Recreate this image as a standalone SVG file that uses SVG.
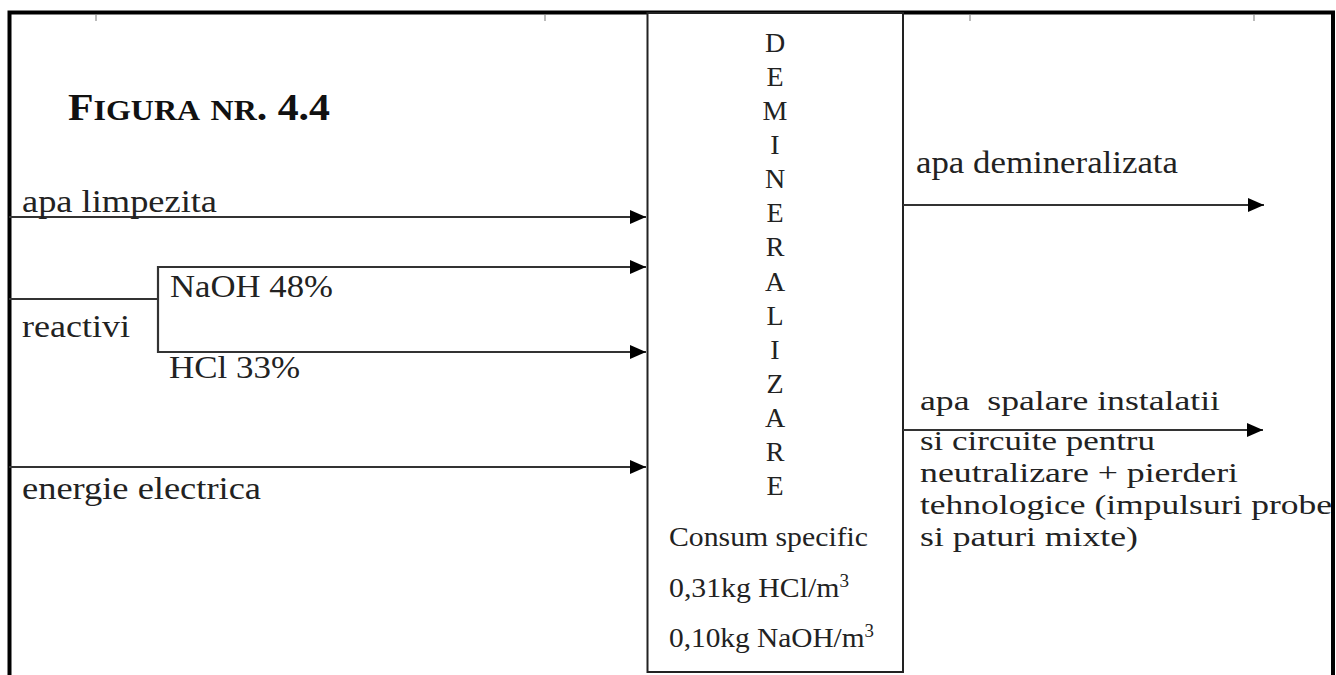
<svg xmlns="http://www.w3.org/2000/svg" width="1336" height="675" viewBox="0 0 1336 675">
  <defs>
    <marker id="arrow" viewBox="0 0 16 14" refX="16" refY="7" markerWidth="16" markerHeight="14" markerUnits="userSpaceOnUse" orient="auto">
      <path d="M0,0 L16,7 L0,14 Z" fill="#000"/>
    </marker>
    <style>
      .frame { fill: none; stroke: #000; stroke-width: 4; }
      .box { fill: #fff; stroke: #222; stroke-width: 2; }
      .flow { fill: none; stroke: #333; stroke-width: 2.2; }
      .flow-arrow { fill: none; stroke: #333; stroke-width: 2.2; marker-end: url(#arrow); }
      .tick { stroke: #bbb; stroke-width: 2; }
      .lbl { font-family: "Liberation Serif", "Times New Roman", serif; font-size: 32px; fill: #222; white-space: pre; }
      .lbl-sm { font-family: "Liberation Serif", "Times New Roman", serif; font-size: 28px; fill: #222; white-space: pre; }
      .inbox { font-family: "Liberation Serif", "Times New Roman", serif; font-size: 28px; fill: #222; }
      .letter { font-family: "Liberation Serif", "Times New Roman", serif; font-size: 28px; fill: #222; text-anchor: middle; }
      .title { font-family: "Liberation Serif", "Times New Roman", serif; font-weight: bold; fill: #111; }
    </style>
  </defs>

  <rect width="1336" height="675" fill="#fff"/>

  <!-- outer frame, open at the bottom -->
  <path class="frame" d="M9.5,690 V12.5 H1333 V690"/>

  <!-- faint marks along the top edge -->
  <g id="top-marks">
    <line class="tick" x1="96" y1="15" x2="96" y2="21"/>
    <line class="tick" x1="545" y1="15" x2="545" y2="21"/>
    <line class="tick" x1="970" y1="15" x2="970" y2="21"/>
    <line class="tick" x1="1254" y1="15" x2="1254" y2="21"/>
  </g>

  <!-- figure title -->
  <g id="title">
    <text class="title" x="68" y="120" textLength="262" lengthAdjust="spacingAndGlyphs"><tspan font-size="38">F</tspan><tspan font-size="29">IGURA</tspan><tspan font-size="38"> </tspan><tspan font-size="29">NR</tspan><tspan font-size="38">. 4.4</tspan></text>
  </g>

  <!-- process block -->
  <g id="demineralizare">
    <rect class="box" x="647.5" y="13" width="255.5" height="659"/>
    <text class="letter" x="775" y="52">D</text>
    <text class="letter" x="775" y="86">E</text>
    <text class="letter" x="775" y="120">M</text>
    <text class="letter" x="775" y="154">I</text>
    <text class="letter" x="775" y="188">N</text>
    <text class="letter" x="775" y="222">E</text>
    <text class="letter" x="775" y="256">R</text>
    <text class="letter" x="775" y="291">A</text>
    <text class="letter" x="775" y="325">L</text>
    <text class="letter" x="775" y="359">I</text>
    <text class="letter" x="775" y="393">Z</text>
    <text class="letter" x="775" y="427">A</text>
    <text class="letter" x="775" y="461">R</text>
    <text class="letter" x="775" y="495">E</text>
    <text class="inbox" x="669" y="546" textLength="199" lengthAdjust="spacingAndGlyphs">Consum specific</text>
    <text class="inbox" x="669" y="597" textLength="180" lengthAdjust="spacingAndGlyphs">0,31kg HCl/m<tspan font-size="18" dy="-10">3</tspan></text>
    <text class="inbox" x="669" y="647" textLength="205" lengthAdjust="spacingAndGlyphs">0,10kg NaOH/m<tspan font-size="18" dy="-10">3</tspan></text>
  </g>

  <!-- connectors -->
  <g id="connectors">
    <path class="flow-arrow" d="M9,217 H646"/>
    <path class="flow" d="M9,299 H158"/>
    <path class="flow" d="M158,266 V353"/>
    <path class="flow-arrow" d="M157,267 H646"/>
    <path class="flow-arrow" d="M157,352 H646"/>
    <path class="flow-arrow" d="M9,467 H646"/>
    <path class="flow-arrow" d="M903,205 H1264"/>
    <path class="flow-arrow" d="M903,430 H1263"/>
  </g>

  <!-- input labels -->
  <g id="in-apa-limpezita">
    <text class="lbl" x="22" y="212" textLength="195" lengthAdjust="spacingAndGlyphs">apa limpezita</text>
  </g>
  <g id="in-reactivi">
    <text class="lbl" x="22" y="337" textLength="108" lengthAdjust="spacingAndGlyphs">reactivi</text>
  </g>
  <g id="in-naoh">
    <text class="lbl" x="170" y="297" textLength="163" lengthAdjust="spacingAndGlyphs">NaOH 48%</text>
  </g>
  <g id="in-hcl">
    <text class="lbl" x="169" y="378" textLength="131" lengthAdjust="spacingAndGlyphs">HCl 33%</text>
  </g>
  <g id="in-energie">
    <text class="lbl" x="22" y="499" textLength="239" lengthAdjust="spacingAndGlyphs">energie electrica</text>
  </g>

  <!-- output labels -->
  <g id="out-apa-demineralizata">
    <text class="lbl" x="916" y="173" textLength="262" lengthAdjust="spacingAndGlyphs">apa demineralizata</text>
  </g>
  <g id="out-apa-spalare">
    <text class="lbl-sm" x="920" y="410" textLength="300" lengthAdjust="spacingAndGlyphs">apa  spalare instalatii</text>
    <text class="lbl-sm" x="920" y="450" textLength="235" lengthAdjust="spacingAndGlyphs">si circuite pentru</text>
    <text class="lbl-sm" x="920" y="482" textLength="318" lengthAdjust="spacingAndGlyphs">neutralizare + pierderi</text>
    <text class="lbl-sm" x="920" y="514" textLength="412" lengthAdjust="spacingAndGlyphs">tehnologice (impulsuri probe</text>
    <text class="lbl-sm" x="920" y="546" textLength="218" lengthAdjust="spacingAndGlyphs">si paturi mixte)</text>
  </g>
</svg>
